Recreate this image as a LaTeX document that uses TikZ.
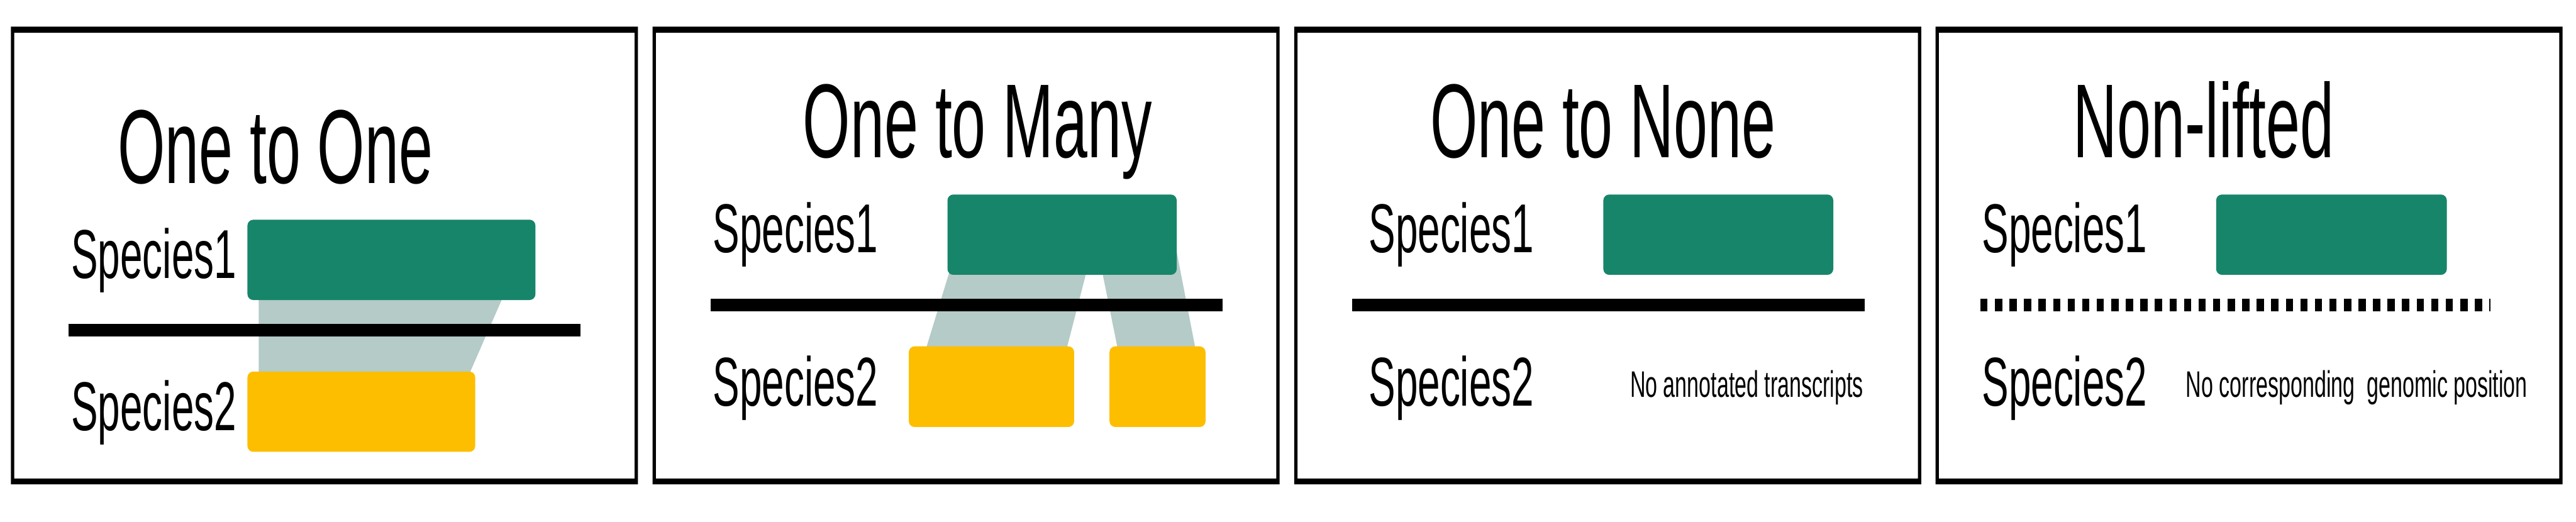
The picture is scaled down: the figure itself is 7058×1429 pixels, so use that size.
\documentclass[tikz,border=0pt]{standalone}
\usepackage{fontspec}
\newfontfamily\narrowsans[FakeStretch=0.58]{Liberation Sans}
\usetikzlibrary{positioning}

\definecolor{sonegreen}{HTML}{17856A}
\definecolor{stwoyellow}{HTML}{FEBE00}
\definecolor{liftgray}{HTML}{B4CBC7}

\begin{document}
\begin{tikzpicture}[x=0.005cm,y=-0.005cm,
  every node/.style={inner sep=0pt,anchor=base west},
  caption/.style={font=\narrowsans\fontsize{41}{49}\selectfont},
  species/.style={font=\narrowsans\fontsize{27}{32}\selectfont},
  remark/.style={font=\narrowsans\fontsize{14.4}{17}\selectfont},
  frame/.style={fill=black,even odd rule},
  geneone/.style={fill=sonegreen,rounded corners=0.08cm},
  genetwo/.style={fill=stwoyellow,rounded corners=0.08cm},
  liftband/.style={fill=liftgray},
  chrom/.style={line width=0.175cm}
]
  \useasboundingbox (0,0) rectangle (7058,1429);
  \fill[white] (0,0) rectangle (7058,1429);

  % panel frames
  \foreach \px in {30,1788,3546,5303}
    \fill[frame] (\px,73) rectangle ++(1718,1254)
                 (\px+9,90) rectangle ++(1700,1221);

  % one to one
  \fill[liftband] (709,800) -- (1384,800) -- (1279,1040) -- (709,1040) -- cycle;
  \fill[geneone] (678,602) rectangle (1467,822);
  \fill[genetwo] (678,1018) rectangle (1302,1238);
  \draw[chrom] (188,904.5) -- (1591,904.5);
  \node[caption] (oneone) at (321,502) {One to One};
  \node[species] (sp1a) at (194,762) {Species1};
  \node[species] (sp2a) at (194,1180) {Species2};

  % one to many
  \fill[liftband] (2611,713) -- (2985,713) -- (2919,969) -- (2533,969) -- cycle;
  \fill[liftband] (3009,690) -- (3224,690) -- (3278,969) -- (3065,969) -- cycle;
  \fill[geneone] (2596,533) rectangle (3224,753);
  \fill[genetwo] (2490,949) rectangle (2943,1170);
  \fill[genetwo] (3040,949) rectangle (3303,1170);
  \draw[chrom] (1947,835.5) -- (3350,835.5);
  \node[caption] (onemany) at (2199,432) {One to Many};
  \node[species] (sp1b) at (1952,692) {Species1};
  \node[species] (sp2b) at (1952,1112) {Species2};

  % one to none
  \fill[geneone] (4393,533) rectangle (5023,753);
  \draw[chrom] (3705,835.5) -- (5109,835.5);
  \node[caption] (onenone) at (3917,432) {One to None};
  \node[species] (sp1c) at (3749,692) {Species1};
  \node[species] (sp2c) at (3749,1112) {Species2};
  \node[remark] (noannot) at (4465,1088) {No annotated transcripts};

  % non-lifted
  \fill[geneone] (6072,533) rectangle (6704,753);
  \draw[chrom,dash pattern=on 0.0997cm off 0.0997cm] (5426,835.5) -- (6824,835.5);
  \node[caption] (nonlift) at (5679,432) {Non-lifted};
  \node[species] (sp1d) at (5429,692) {Species1};
  \node[species] (sp2d) at (5429,1112) {Species2};
  \node[remark] (nopos) at (5988,1088) {No corresponding\ \ genomic position};
\end{tikzpicture}
\end{document}
